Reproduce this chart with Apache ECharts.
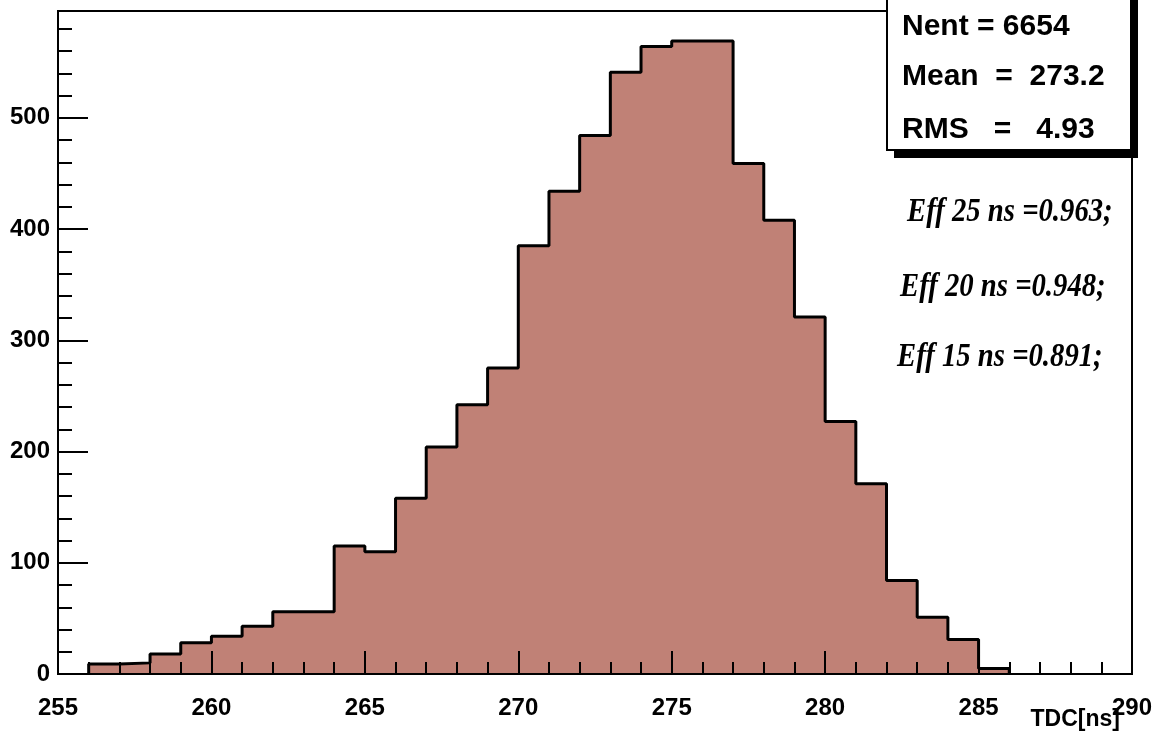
<!DOCTYPE html>
<html><head><meta charset="utf-8">
<script src="https://cdn.jsdelivr.net/npm/echarts@6/dist/echarts.min.js"></script>
<style>html,body{margin:0;padding:0;background:#fff}#c{width:1158px;height:740px}</style>
</head><body><div id="c"></div>
<script>
// ---- data ----
const binStart = 256;
const binWidth = 1;
const counts = [9, 10, 18, 28, 34, 43, 56, 56, 115, 110, 158, 204, 242, 275, 385, 434, 484, 541, 564, 569, 569, 459, 408, 321, 227, 171, 84, 51, 31, 5];
const xMin = 255, xMax = 290, xStep = 5;
const yMin = 0, yMax = 596, yStep = 100;
const statsLines = ['Nent = 6654', 'Mean  =  273.2', 'RMS   =   4.93'];
const effLines = ['Eff 25 ns =0.963;', 'Eff 20 ns =0.948;', 'Eff 15 ns =0.891;'];
const xTitle = 'TDC[ns]';

// ---- build ----
const stepData = [[binStart, 0]];
counts.forEach((c, i) => stepData.push([binStart + i * binWidth, c]));
stepData.push([binStart + counts.length * binWidth, 0]);

const SANS = "'Liberation Sans', Arial, sans-serif";
const axisLineStyle = { color: '#000', width: 2 };

const chart = echarts.init(document.getElementById('c'), null, { renderer: 'canvas' });

const statsY = [27, 77, 130];
const effPos = [[907, 212], [900, 287], [897, 357]];

const graphic = [
  { type: 'rect', z: 100, shape: { x: 894, y: -10, width: 244, height: 168 }, style: { fill: '#000' } },
  { type: 'rect', z: 101, shape: { x: 887, y: -10, width: 244, height: 160 }, style: { fill: '#fff', stroke: '#000', lineWidth: 2 } }
];
statsLines.forEach((t, i) => graphic.push({
  type: 'text', z: 102, x: 902, y: statsY[i],
  style: { text: t, fill: '#000', font: "bold 30px " + SANS, verticalAlign: 'middle', align: 'left' }
}));
effLines.forEach((t, i) => graphic.push({
  type: 'text', z: 102, x: effPos[i][0], y: effPos[i][1], scaleX: 0.87,
  style: { text: t, fill: '#000', font: "italic bold 33px 'Liberation Serif', 'Times New Roman', serif", verticalAlign: 'middle', align: 'left' }
}));
graphic.push({
  type: 'text', z: 102, x: 1120, y: 720,
  style: { text: xTitle, fill: '#000', font: "bold 23px " + SANS, verticalAlign: 'middle', align: 'right' }
});

chart.setOption({
  animation: false,
  backgroundColor: '#fff',
  grid: { left: 58, right: 26, top: 11, bottom: 66, show: true, borderColor: '#000', borderWidth: 2, containLabel: false, outerBoundsMode: 'none' },
  xAxis: {
    type: 'value', min: xMin, max: xMax, interval: xStep, z: 20, zlevel: 1,
    axisLine: { show: true, onZero: false, lineStyle: axisLineStyle },
    axisTick: { show: true, inside: true, length: 23, lineStyle: axisLineStyle },
    minorTick: { show: true, splitNumber: 5, length: 12, lineStyle: axisLineStyle },
    splitLine: { show: false },
    axisLabel: { margin: 22, color: '#000', fontSize: 24, fontWeight: 'bold', fontFamily: SANS }
  },
  yAxis: {
    type: 'value', min: yMin, max: yMax, interval: yStep, z: 20, zlevel: 1,
    axisLine: { show: true, lineStyle: axisLineStyle },
    axisTick: { show: true, inside: true, length: 30, lineStyle: axisLineStyle },
    minorTick: { show: true, splitNumber: 5, length: 14, lineStyle: axisLineStyle },
    splitLine: { show: false },
    axisLabel: { margin: 8, color: '#000', fontSize: 24, fontWeight: 'bold', fontFamily: SANS, showMaxLabel: false }
  },
  series: [{
    type: 'line', step: 'end', data: stepData, symbol: 'none', silent: true, z: 1,
    lineStyle: { color: '#000', width: 3 },
    areaStyle: { color: '#c08176', opacity: 1 }
  }],
  graphic: graphic
});
</script></body></html>
